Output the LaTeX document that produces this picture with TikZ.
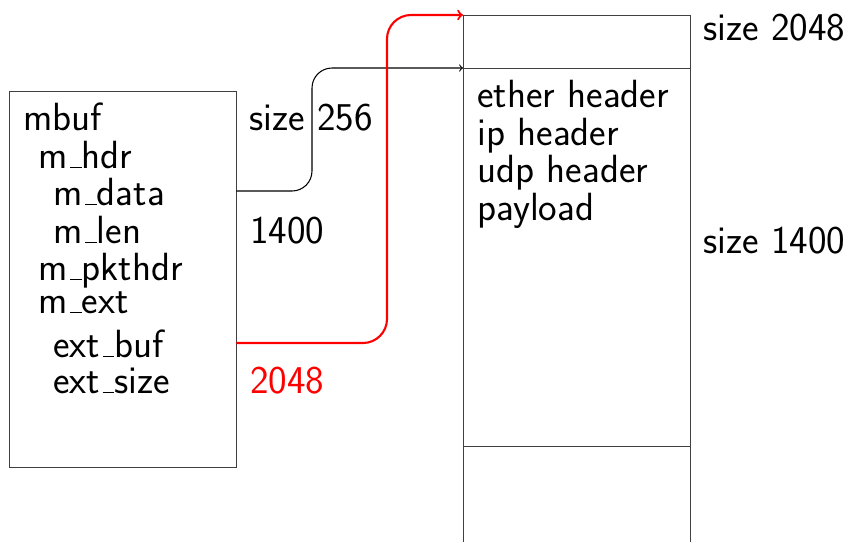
\documentclass[tikz,border=0pt]{standalone}
\newcommand{\usc}{\leavevmode\kern.06em\vbox{\hrule width.3em}}
\begin{document}
\begin{tikzpicture}[x=0.02cm,y=-0.02cm,
  lbl/.style={anchor=base west,inner sep=0pt,font=\fontsize{22.4}{26}\selectfont\sffamily},
  boxline/.style={draw=black!75,line width=0.5pt},
  link/.style={->,black,line width=0.6pt},
  redlink/.style={->,red,line width=1.2pt}]
\useasboundingbox (0,0) rectangle (848,542);
% mbuf box
\node[boxline,rectangle,inner sep=0pt,minimum width=4.54cm,minimum height=7.52cm] (mbuf) at (122.5,279) {};
\node[lbl] (t1) at (23,130) {mbuf};
\node[lbl] (t2) at (38,168) {m\usc hdr};
\node[lbl] (t3) at (53,205) {m\usc data};
\node[lbl] (t4) at (53,243) {m\usc len};
\node[lbl] (t5) at (38,280) {m\usc pkthdr};
\node[lbl] (t6) at (38,313) {m\usc ext};
\node[lbl] (t7) at (53,357) {ext\usc buf};
\node[lbl] (t8) at (53,393) {ext\usc size};
\node[lbl] (v1) at (249,130) {size 256};
\node[lbl] (v2) at (250,243) {1400};
\node[lbl,text=red] (v3) at (250,393) {2048};
% cluster buffer
\draw[boxline] (463,542) -- (463,15) -- (690,15) -- (690,542);
\draw[boxline] (463,68) -- (690,68);
\draw[boxline] (463,446) -- (690,446);
\coordinate (buftop) at (463,15);
\coordinate (bufdata) at (463,68);
\node[lbl] (p1) at (477,107) {ether header};
\node[lbl] (p2) at (477,145) {ip header};
\node[lbl] (p3) at (477,182) {udp header};
\node[lbl] (p4) at (477,220) {payload};
\node[lbl] (s1) at (703,40) {size 2048};
\node[lbl] (s2) at (703,253) {size 1400};
% connectors
\coordinate (dstart) at (mbuf.east |- 0,191);
\coordinate (estart) at (mbuf.east |- 0,343);
\draw[link,rounded corners=0.4cm] (dstart) -- (312,191) -- (312,68) -- (bufdata);
\draw[redlink,rounded corners=0.48cm] (estart) -- (387,343) -- (387,15) -- (buftop);
\end{tikzpicture}
\end{document}
